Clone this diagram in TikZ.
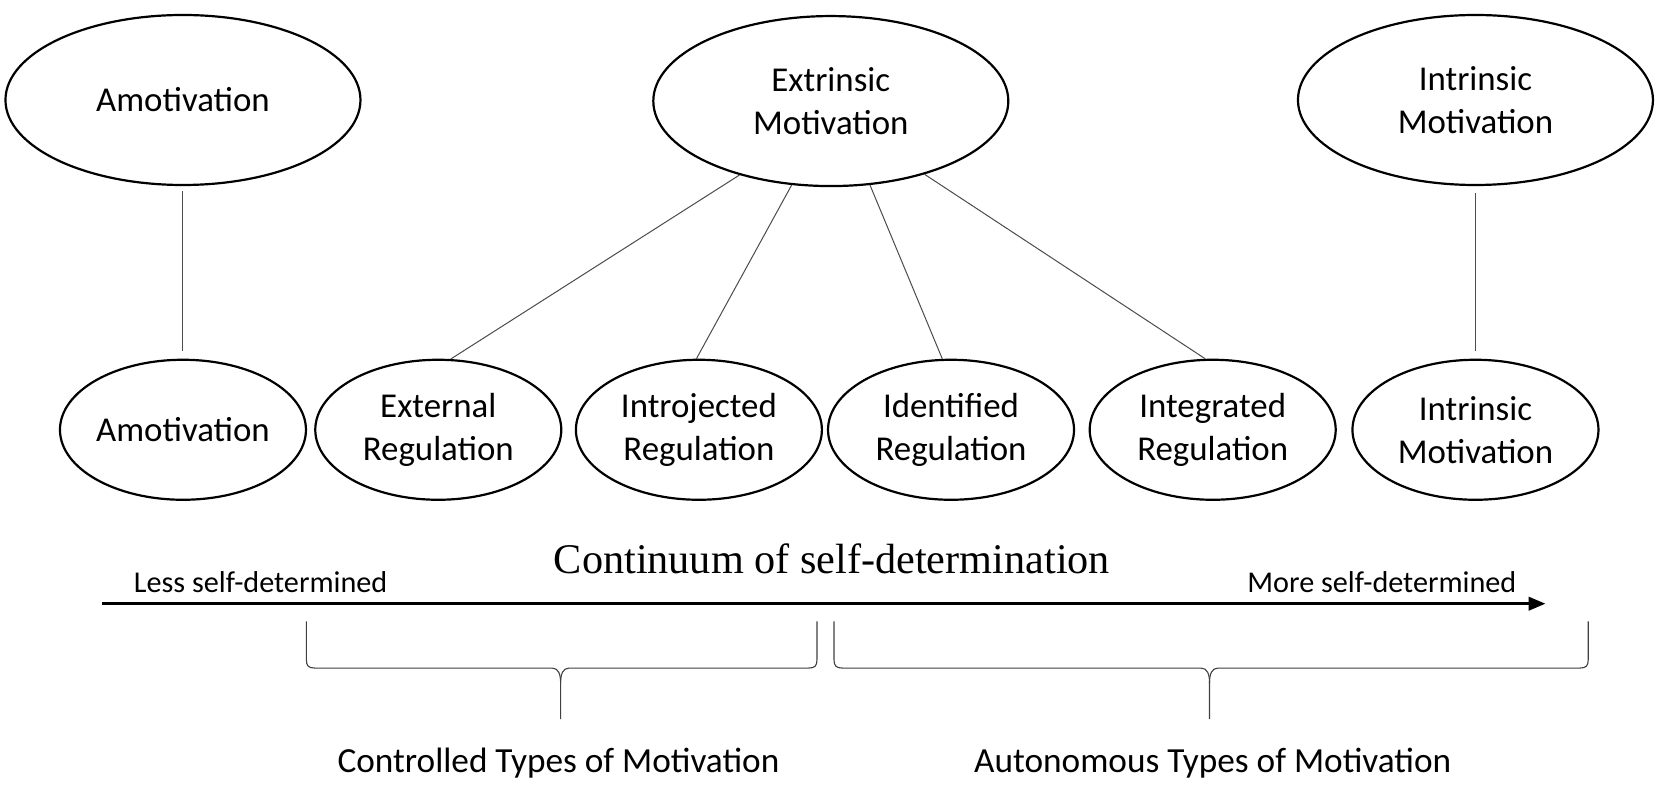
\documentclass[tikz,border=0pt]{standalone}
\usepackage{fontspec}
\setmainfont{Carlito}
\newfontfamily\titlefont{Liberation Serif}
\usetikzlibrary{shapes.geometric,arrows.meta}
\begin{document}
\begin{tikzpicture}[x=1.0638bp,y=-1.0638bp,
  topell/.style={ellipse,draw,line width=2.2bp,minimum width=355bp,minimum height=170bp,inner sep=0pt,align=center,font=\fontsize{35}{43}\selectfont},
  botell/.style={ellipse,draw,line width=2.2bp,minimum width=246bp,minimum height=140bp,inner sep=0pt,align=center,font=\fontsize{35}{43}\selectfont},
  link/.style={draw=black!70,line width=1bp},
  bracepath/.style={draw=black!75,line width=1.1bp},
  sidelabel/.style={font=\fontsize{30.3}{34}\selectfont,inner sep=0pt,anchor=base},
  typelabel/.style={font=\fontsize{35.4}{40}\selectfont,inner sep=0pt,anchor=base}]
\useasboundingbox (0,0) rectangle (1568,744.5);
\fill[white] (0,0) rectangle (1568,744.5);

% top row
\node[topell] (amoT) at (172,94) {Amotivation};
\node[topell] (extT) at (781,95) {Extrinsic\\Motivation};
\node[topell] (intT) at (1387,94) {Intrinsic\\Motivation};

% bottom row
\node[botell] (amoB) at (172,404) {Amotivation};
\node[botell] (ext) at (412,404) {External\\Regulation};
\node[botell] (intro) at (657,404) {Introjected\\Regulation};
\node[botell] (ident) at (894,404) {Identified\\Regulation};
\node[botell] (integ) at (1140,404) {Integrated\\Regulation};
\node[botell] (intB) at (1387,404) {Intrinsic\\Motivation};

% connectors
\draw[link,shorten <=5bp,shorten >=8bp] (amoT) -- (amoB);
\draw[link,shorten <=7bp,shorten >=8bp] (intT) -- (intB);
\draw[link] (extT.219) -- (ext.80);
\draw[link] (extT.245) -- (intro.92);
\draw[link] (extT.295) -- (ident.97);
\draw[link] (extT.322) -- (integ.96);

% continuum
\node[font=\titlefont\fontsize{42.4}{46}\selectfont,inner sep=0pt] (title) at (782,525) {Continuum of self-determination};
\node[sidelabel] (less) at (245,557.4) {Less self-determined};
\node[sidelabel] (more) at (1299,557.4) {More self-determined};
\coordinate (arrS) at (96,567.5);
\coordinate (arrE) at (1453,567.5);
\draw[line width=3.6bp,-{Triangle[length=17bp,width=13bp]}] (arrS) -- (arrE);

% braces
\coordinate (bLa) at (288,584);
\coordinate (bLm) at (527,628);
\coordinate (bLb) at (768,584);
\coordinate (bRa) at (784,584);
\coordinate (bRm) at (1137,628);
\coordinate (bRb) at (1493,584);
\draw[bracepath] (bLa) -- ++(0,36) .. controls +(0,6) and +(-6,0) .. ++(8,8) -- ([xshift=-8.5bp]bLm)
  .. controls +(6,0) and +(0,-8) .. ++(8,14) -- ++(0,34);
\draw[bracepath] (bLb) -- ++(0,36) .. controls +(0,6) and +(6,0) .. ++(-8,8) -- ([xshift=8.5bp]bLm)
  .. controls +(-6,0) and +(0,-8) .. ++(-8,14);
\draw[bracepath] (bRa) -- ++(0,36) .. controls +(0,6) and +(-6,0) .. ++(8,8) -- ([xshift=-8.5bp]bRm)
  .. controls +(6,0) and +(0,-8) .. ++(8,14) -- ++(0,34);
\draw[bracepath] (bRb) -- ++(0,36) .. controls +(0,6) and +(6,0) .. ++(-8,8) -- ([xshift=8.5bp]bRm)
  .. controls +(-6,0) and +(0,-8) .. ++(-8,14);

\node[typelabel] (ctrl) at (525,726.6) {Controlled Types of Motivation};
\node[typelabel] (auto) at (1140,726.6) {Autonomous Types of Motivation};
\end{tikzpicture}
\end{document}
